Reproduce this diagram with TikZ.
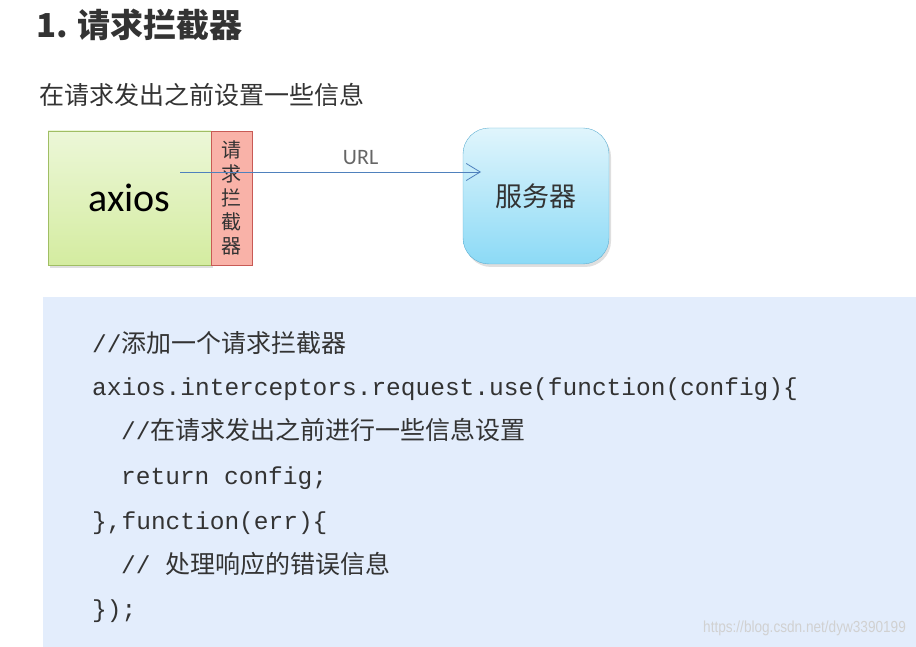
\documentclass[tikz,border=0pt]{standalone}
\usepackage{fontspec}
\setmainfont{Noto Sans CJK SC}
\setmonofont{Liberation Mono}
\newfontfamily\cjk{Noto Sans CJK SC}
\newfontfamily\calib{Carlito}
\newfontfamily\wmfont{Liberation Sans}
\usetikzlibrary{arrows.meta,shadows}
\definecolor{txtgray}{HTML}{333333}
\definecolor{greentop}{RGB}{236,247,216}
\definecolor{greenbot}{RGB}{212,236,160}
\definecolor{greenline}{RGB}{160,190,100}
\definecolor{redfill}{RGB}{249,178,168}
\definecolor{redline}{RGB}{200,90,85}
\definecolor{bluetop}{RGB}{224,245,252}
\definecolor{bluebot}{RGB}{140,218,246}
\definecolor{blueline}{RGB}{95,175,210}
\definecolor{arrowblue}{RGB}{79,129,189}
\definecolor{codebg}{RGB}{227,237,252}
\newcommand{\zh}[1]{{\cjk\fontsize{25}{30}\selectfont #1}}
\begin{document}
\begin{tikzpicture}[x=1pt, y=-1pt,
    heading/.style={anchor=west, text=txtgray, inner sep=0pt},
    boxshadow/.style={drop shadow={opacity=0.25, shadow xshift=2pt, shadow yshift=-3pt}},
    clientbox/.style={draw=greenline, top color=greentop, bottom color=greenbot,
        minimum width=163pt, minimum height=134pt, boxshadow},
    stripbox/.style={draw=redline, fill=redfill, minimum width=41pt, minimum height=134pt,
        inner sep=0pt, align=center, text=txtgray},
    serverbox/.style={draw=blueline, top color=bluetop, bottom color=bluebot, rounded corners=26pt,
        minimum width=146pt, minimum height=136pt, boxshadow},
    urlarrow/.style={arrowblue, line width=0.8pt, -{Straight Barb[length=14pt, width=17pt, line width=0.8pt]}},
    codeline/.style={anchor=west, inner sep=0pt, text=txtgray, text height=20pt, text depth=6pt,
        font=\ttfamily\fontsize{24.5}{30}\selectfont}]
    \useasboundingbox (0,0) rectangle (916,647);

    % Heading
    \node[heading, font=\bfseries\fontsize{33}{36}\selectfont] (title) at (36,25) {1. 请求拦截器};
    \node[heading, font=\fontsize{25}{28}\selectfont] (subtitle) at (39,95) {在请求发出之前设置一些信息};

    % axios with interceptor
    \node[clientbox, font=\calib\fontsize{40}{44}\selectfont] (axios) at (129.5,198) {axios};
    \node[stripbox, font=\fontsize{20}{25}\selectfont] (interceptor) at (231.5,198)
        {请\\[-1pt]求\\[-1pt]拦\\[-1pt]截\\[-1pt]器};

    % Server
    \node[serverbox, font=\fontsize{27}{30}\selectfont, text=txtgray] (server) at (536,196) {服务器};

    % Request
    \coordinate (urlfrom) at (180,172);
    \coordinate (urlto) at (481,172);
    \draw[urlarrow] (urlfrom) -- (urlto)
        node[pos=0.6, above=4pt, text=black!60, font=\calib\fontsize{22}{24}\selectfont] (url) {URL};

    % Code sample
    \fill[codebg] (43,297) rectangle (916,647);
    \node[codeline] (c1) at (92,345) {//\zh{添加一个请求拦截器}};
    \node[codeline] (c2) at (92,388) {axios.interceptors.request.use(function(config)\{};
    \node[codeline] (c3) at (121,432) {//\zh{在请求发出之前进行一些信息设置}};
    \node[codeline] (c4) at (121,477) {return config;};
    \node[codeline] (c5) at (92,522) {\},function(err)\{};
    \node[codeline] (c6) at (121,566) {// \zh{处理响应的错误信息}};
    \node[codeline] (c7) at (92,610) {\});};

    % Watermark
    \node[anchor=east, inner sep=0pt, text=black!18, font=\wmfont\fontsize{16}{20}\selectfont, xscale=0.85] (mark)
        at (906,628) {https://blog.csdn.net/dyw3390199};
\end{tikzpicture}
\end{document}
